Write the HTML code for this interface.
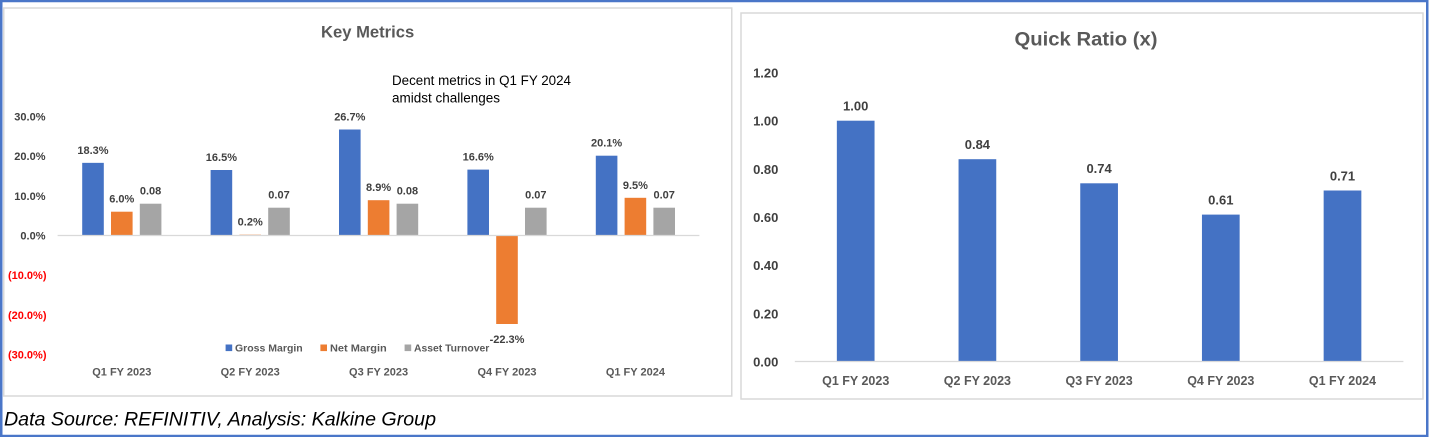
<!DOCTYPE html>
<html>
<head>
<meta charset="utf-8">
<style>
  html, body { margin: 0; padding: 0; background: #ffffff; }
  body { width: 1430px; height: 437px; overflow: hidden; }
  svg { display: block; font-family: "Liberation Sans", Arial, sans-serif; }
  .ax { font-size: 11px; font-weight: bold; fill: #404040; }
  .neg { font-size: 11px; font-weight: bold; fill: #ff0000; }
  .dl { font-size: 11px; font-weight: bold; fill: #404040; text-anchor: middle; }
  .cat { font-size: 11px; font-weight: bold; fill: #595959; text-anchor: middle; }
  .leg { font-size: 10.5px; font-weight: bold; fill: #595959; }
  .rax { font-size: 13px; font-weight: bold; fill: #404040; text-anchor: end; }
  .rdl { font-size: 13px; font-weight: bold; fill: #404040; text-anchor: middle; }
  .rcat { font-size: 12.5px; font-weight: bold; fill: #595959; text-anchor: middle; }
</style>
</head>
<body>
<svg width="1430" height="437" viewBox="0 0 1430 437" xmlns="http://www.w3.org/2000/svg">
  <rect x="0" y="0" width="1430" height="437" fill="#ffffff"/>
  <!-- outer blue border -->
  <rect x="1.25" y="1" width="1426" height="435" fill="none" stroke="#4a76c8" stroke-width="2.5"/>

  <!-- ================= LEFT CHART ================= -->
  <rect x="3.75" y="8" width="728" height="388" fill="#ffffff" stroke="#d9d9d9" stroke-width="1.5"/>
  <text x="367.6" y="37.5" text-anchor="middle" font-size="16.6" font-weight="bold" fill="#595959">Key Metrics</text>
  <text x="392" y="85" font-size="13.5" fill="#000000" textLength="179" lengthAdjust="spacingAndGlyphs">Decent metrics in Q1 FY 2024</text>
  <text x="392" y="102.7" font-size="13.5" fill="#000000">amidst challenges</text>

  <!-- y axis labels (zero 235.5, 3.97px per %) -->
  <text class="ax" x="45.5" y="120.4" text-anchor="end">30.0%</text>
  <text class="ax" x="45.5" y="160.1" text-anchor="end">20.0%</text>
  <text class="ax" x="45.5" y="199.8" text-anchor="end">10.0%</text>
  <text class="ax" x="45.5" y="239.5" text-anchor="end">0.0%</text>
  <text class="neg" x="46.5" y="279.2" text-anchor="end">(10.0%)</text>
  <text class="neg" x="46.5" y="318.9" text-anchor="end">(20.0%)</text>
  <text class="neg" x="46.5" y="358.6" text-anchor="end">(30.0%)</text>

  <!-- bars: centers 121.8 + 128.4*i ; gross [-39.6,-18], net [-10.8,10.8], grey [18,39.6] -->
  <!-- Q1 FY 2023 -->
  <rect x="82.2" y="162.85" width="21.6" height="72.65" fill="#4472c4"/>
  <rect x="111.0" y="211.7" width="21.6" height="23.8" fill="#ed7d31"/>
  <rect x="139.8" y="203.7" width="21.6" height="31.8" fill="#a5a5a5"/>
  <!-- Q2 FY 2023 -->
  <rect x="210.6" y="170.0" width="21.6" height="65.5" fill="#4472c4"/>
  <rect x="239.4" y="234.7" width="21.6" height="0.8" fill="#ed7d31"/>
  <rect x="268.2" y="207.7" width="21.6" height="27.8" fill="#a5a5a5"/>
  <!-- Q3 FY 2023 -->
  <rect x="339.0" y="129.5" width="21.6" height="106.0" fill="#4472c4"/>
  <rect x="367.8" y="200.2" width="21.6" height="35.3" fill="#ed7d31"/>
  <rect x="396.6" y="203.7" width="21.6" height="31.8" fill="#a5a5a5"/>
  <!-- Q4 FY 2023 -->
  <rect x="467.4" y="169.6" width="21.6" height="65.9" fill="#4472c4"/>
  <rect x="496.2" y="235.5" width="21.6" height="88.5" fill="#ed7d31"/>
  <rect x="525.0" y="207.7" width="21.6" height="27.8" fill="#a5a5a5"/>
  <!-- Q1 FY 2024 -->
  <rect x="595.8" y="155.7" width="21.6" height="79.8" fill="#4472c4"/>
  <rect x="624.6" y="197.8" width="21.6" height="37.7" fill="#ed7d31"/>
  <rect x="653.4" y="207.7" width="21.6" height="27.8" fill="#a5a5a5"/>

  <!-- zero axis line -->
  <line x1="57.6" y1="235.5" x2="699.4" y2="235.5" stroke="#d9d9d9" stroke-width="1.3"/>

  <!-- data labels -->
  <text class="dl" x="93" y="153.8">18.3%</text>
  <text class="dl" x="121.8" y="202.7">6.0%</text>
  <text class="dl" x="150.6" y="194.7">0.08</text>

  <text class="dl" x="221.4" y="161">16.5%</text>
  <text class="dl" x="250.2" y="225.7">0.2%</text>
  <text class="dl" x="279" y="198.7">0.07</text>

  <text class="dl" x="349.8" y="120.5">26.7%</text>
  <text class="dl" x="378.6" y="191.2">8.9%</text>
  <text class="dl" x="407.4" y="194.7">0.08</text>

  <text class="dl" x="478.2" y="160.6">16.6%</text>
  <text class="dl" x="507" y="343">-22.3%</text>
  <text class="dl" x="535.8" y="198.7">0.07</text>

  <text class="dl" x="606.6" y="146.7">20.1%</text>
  <text class="dl" x="635.4" y="188.8">9.5%</text>
  <text class="dl" x="664.2" y="198.7">0.07</text>

  <!-- legend -->
  <rect x="225.6" y="344.5" width="6.6" height="6.6" fill="#4472c4"/>
  <text class="leg" x="235" y="351.3" textLength="67.7" lengthAdjust="spacingAndGlyphs">Gross Margin</text>
  <rect x="320.4" y="344.5" width="6.6" height="6.6" fill="#ed7d31"/>
  <text class="leg" x="330" y="351.3" textLength="56.7" lengthAdjust="spacingAndGlyphs">Net Margin</text>
  <rect x="404.6" y="344.5" width="6.6" height="6.6" fill="#a5a5a5"/>
  <text class="leg" x="414" y="351.3" textLength="75.3" lengthAdjust="spacingAndGlyphs">Asset Turnover</text>

  <!-- category labels -->
  <text class="cat" x="121.8" y="375.7">Q1 FY 2023</text>
  <text class="cat" x="250.2" y="375.7">Q2 FY 2023</text>
  <text class="cat" x="378.6" y="375.7">Q3 FY 2023</text>
  <text class="cat" x="507" y="375.7">Q4 FY 2023</text>
  <text class="cat" x="635.4" y="375.7">Q1 FY 2024</text>

  <!-- source -->
  <text x="4" y="425.5" font-size="19" font-style="italic" fill="#000000" textLength="432" lengthAdjust="spacingAndGlyphs">Data Source: REFINITIV, Analysis: Kalkine Group</text>

  <!-- ================= RIGHT CHART ================= -->
  <rect x="741" y="13" width="682" height="386" fill="#ffffff" stroke="#d9d9d9" stroke-width="1.5"/>
  <text x="1086" y="45.5" text-anchor="middle" font-size="19.5" font-weight="bold" fill="#595959" textLength="143" lengthAdjust="spacingAndGlyphs">Quick Ratio (x)</text>

  <!-- y axis labels (zero 361.5, 240.8 px per 1.0) -->
  <text class="rax" x="778.4" y="77.4">1.20</text>
  <text class="rax" x="778.4" y="125.6">1.00</text>
  <text class="rax" x="778.4" y="173.8">0.80</text>
  <text class="rax" x="778.4" y="221.9">0.60</text>
  <text class="rax" x="778.4" y="270.1">0.40</text>
  <text class="rax" x="778.4" y="318.3">0.20</text>
  <text class="rax" x="778.4" y="366.4">0.00</text>

  <!-- bars: centers 855.7 + 121.7*i, width 37.7 -->
  <rect x="836.85" y="120.7" width="37.7" height="240.8" fill="#4472c4"/>
  <rect x="958.55" y="159.2" width="37.7" height="202.3" fill="#4472c4"/>
  <rect x="1080.25" y="183.3" width="37.7" height="178.2" fill="#4472c4"/>
  <rect x="1201.95" y="214.6" width="37.7" height="146.9" fill="#4472c4"/>
  <rect x="1323.65" y="190.5" width="37.7" height="171.0" fill="#4472c4"/>

  <line x1="794.8" y1="361.5" x2="1403.4" y2="361.5" stroke="#d9d9d9" stroke-width="1.3"/>

  <!-- data labels -->
  <text class="rdl" x="855.7" y="110.5">1.00</text>
  <text class="rdl" x="977.4" y="149">0.84</text>
  <text class="rdl" x="1099.1" y="173.1">0.74</text>
  <text class="rdl" x="1220.8" y="204.4">0.61</text>
  <text class="rdl" x="1342.5" y="180.3">0.71</text>

  <!-- category labels -->
  <text class="rcat" x="855.7" y="384.8">Q1 FY 2023</text>
  <text class="rcat" x="977.4" y="384.8">Q2 FY 2023</text>
  <text class="rcat" x="1099.1" y="384.8">Q3 FY 2023</text>
  <text class="rcat" x="1220.8" y="384.8">Q4 FY 2023</text>
  <text class="rcat" x="1342.5" y="384.8">Q1 FY 2024</text>
</svg>
</body>
</html>
